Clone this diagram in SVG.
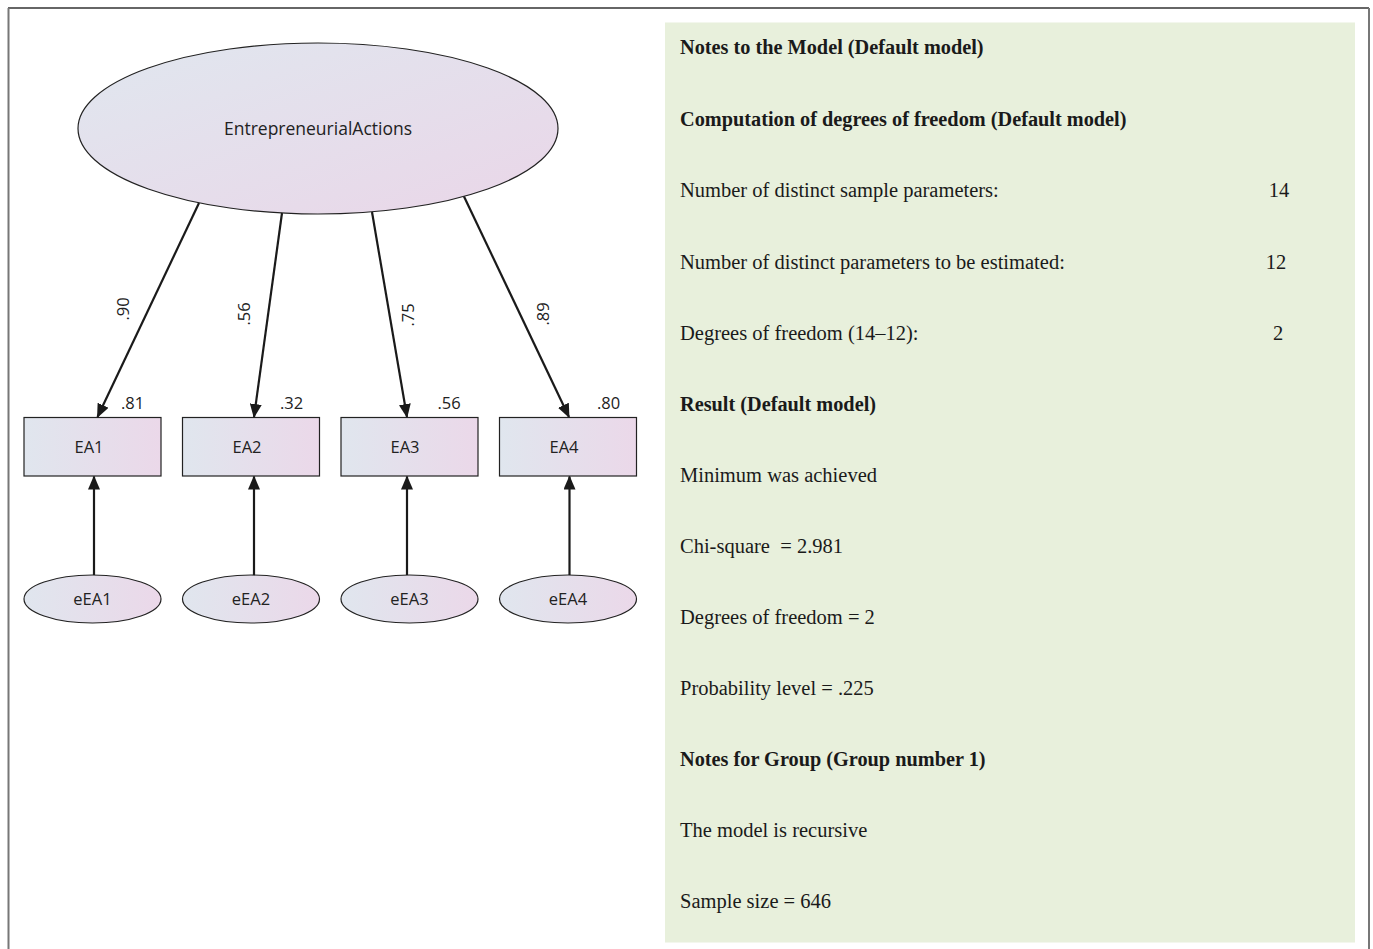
<svg xmlns="http://www.w3.org/2000/svg" width="1373" height="949" viewBox="0 0 1373 949">
<defs>
<linearGradient id="gDiag" x1="0" y1="0" x2="1" y2="1">
<stop offset="0" stop-color="#e0e7ef"/>
<stop offset="1" stop-color="#ead6e8"/>
</linearGradient>
<linearGradient id="gH" x1="0" y1="0" x2="1" y2="0">
<stop offset="0" stop-color="#e0e6ee"/>
<stop offset="1" stop-color="#ebd8e9"/>
</linearGradient>
<marker id="arr" markerUnits="userSpaceOnUse" markerWidth="14" markerHeight="12" refX="13" refY="6" orient="auto">
<path d="M0,0 L14,6 L0,12 z" fill="#1a1a1a"/>
</marker>
<style>
.node{stroke:#222;stroke-width:1.2}
.sans{font-family:"Open Sans","Liberation Sans",sans-serif;fill:#222}
.lbl{font-size:16.5px;text-anchor:middle}
.val{font-size:16.5px}
.conn line{stroke:#1a1a1a;stroke-width:2.2;marker-end:url(#arr)}
.ser{font-family:"Liberation Serif","DejaVu Serif",serif;font-size:20.5px;fill:#1a1a1a}
.b{font-weight:bold;font-size:20.3px}
</style>
</defs>
<rect x="0" y="0" width="1373" height="949" fill="#ffffff"/>
<g id="frame" fill="none">
<line x1="8" y1="8" x2="1369" y2="8" stroke="#333" stroke-width="1.5"/>
<line x1="8.5" y1="8" x2="8.5" y2="949" stroke="#777" stroke-width="2"/>
<line x1="1369" y1="8" x2="1369" y2="949" stroke="#777" stroke-width="2"/>
</g>
<rect id="notesPanel" x="665" y="22.5" width="690" height="920" fill="#e8f0dc"/>

<g id="EntrepreneurialActions">
<ellipse class="node" cx="318" cy="128.5" rx="240" ry="85.5" fill="url(#gDiag)"/>
<text class="sans lbl" x="318" y="134.5" style="font-size:17.5px">EntrepreneurialActions</text>
</g>

<g id="EA1"><rect class="node" x="24" y="417.5" width="137" height="58.5" fill="url(#gH)"/><text class="sans lbl" x="89" y="452.5">EA1</text></g>
<g id="EA2"><rect class="node" x="182.5" y="417.5" width="137" height="58.5" fill="url(#gH)"/><text class="sans lbl" x="247" y="452.5">EA2</text></g>
<g id="EA3"><rect class="node" x="341" y="417.5" width="137" height="58.5" fill="url(#gH)"/><text class="sans lbl" x="405" y="452.5">EA3</text></g>
<g id="EA4"><rect class="node" x="499.5" y="417.5" width="137" height="58.5" fill="url(#gH)"/><text class="sans lbl" x="564" y="452.5">EA4</text></g>

<g id="eEA1"><ellipse class="node" cx="92.5" cy="599" rx="68.5" ry="24" fill="url(#gH)"/><text class="sans lbl" x="92.5" y="605">eEA1</text></g>
<g id="eEA2"><ellipse class="node" cx="251" cy="599" rx="68.5" ry="24" fill="url(#gH)"/><text class="sans lbl" x="251" y="605">eEA2</text></g>
<g id="eEA3"><ellipse class="node" cx="409.5" cy="599" rx="68.5" ry="24" fill="url(#gH)"/><text class="sans lbl" x="409.5" y="605">eEA3</text></g>
<g id="eEA4"><ellipse class="node" cx="568" cy="599" rx="68.5" ry="24" fill="url(#gH)"/><text class="sans lbl" x="568" y="605">eEA4</text></g>

<g id="connectors" class="conn">
<line x1="199" y1="203" x2="97.5" y2="417"/>
<line x1="282" y1="213" x2="254" y2="417"/>
<line x1="372" y1="212" x2="407" y2="417"/>
<line x1="464" y1="196.5" x2="569" y2="417"/>
<line x1="94" y1="575" x2="94" y2="476.5"/>
<line x1="254" y1="575" x2="254" y2="476.5"/>
<line x1="407" y1="575" x2="407" y2="476.5"/>
<line x1="569.5" y1="575" x2="569.5" y2="476.5"/>
</g>

<g id="loadings" class="sans val">
<text transform="translate(129,309) rotate(-90)" text-anchor="middle">.90</text>
<text transform="translate(250,314) rotate(-90)" text-anchor="middle">.56</text>
<text transform="translate(414,315) rotate(-90)" text-anchor="middle">.75</text>
<text transform="translate(549,314) rotate(-90)" text-anchor="middle">.89</text>
<text x="121" y="409">.81</text>
<text x="280" y="409">.32</text>
<text x="437.5" y="409">.56</text>
<text x="597" y="409">.80</text>
</g>

<g id="notes" class="ser">
<text class="b" x="680" y="54">Notes to the Model (Default model)</text>
<text class="b" x="680" y="126">Computation of degrees of freedom (Default model)</text>
<text x="680" y="197">Number of distinct sample parameters:</text>
<text x="1279" y="197" text-anchor="middle">14</text>
<text x="680" y="269">Number of distinct parameters to be estimated:</text>
<text x="1276" y="269" text-anchor="middle">12</text>
<text x="680" y="340">Degrees of freedom (14–12):</text>
<text x="1278" y="340" text-anchor="middle">2</text>
<text class="b" x="680" y="411">Result (Default model)</text>
<text x="680" y="482">Minimum was achieved</text>
<text x="680" y="553">Chi-square&#160; = 2.981</text>
<text x="680" y="624">Degrees of freedom = 2</text>
<text x="680" y="695">Probability level = .225</text>
<text class="b" x="680" y="766">Notes for Group (Group number 1)</text>
<text x="680" y="837">The model is recursive</text>
<text x="680" y="908">Sample size = 646</text>
</g>
</svg>
